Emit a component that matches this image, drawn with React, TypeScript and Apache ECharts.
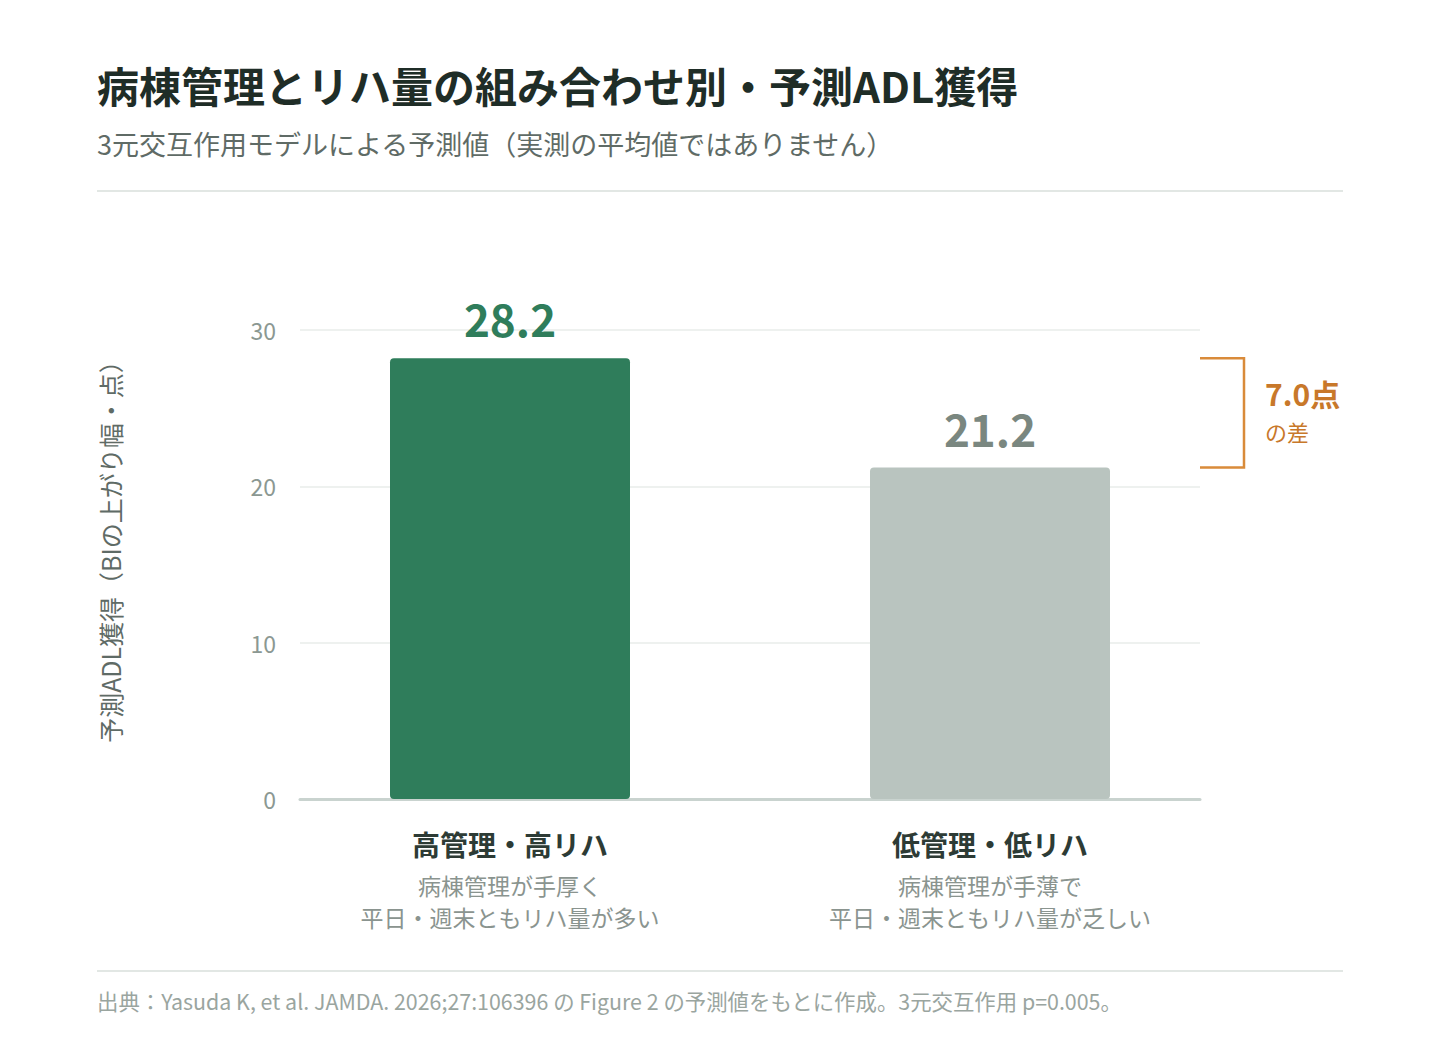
import React, { useEffect, useRef } from "react";
import * as echarts from "echarts";

const categories = ["高管理・高リハ", "低管理・低リハ"];
const categoryNotes = [
  ["病棟管理が手厚く", "平日・週末ともリハ量が多い"],
  ["病棟管理が手薄で", "平日・週末ともリハ量が乏しい"],
];
const values = [28.2, 21.2];
const barColors = ["#2f7d5b", "#b9c4bf"];
const labelColors = ["#2f7d5b", "#7a8780"];
const yTicks = [0, 10, 20, 30];

const FONT = '"Noto Sans CJK JP", "Noto Sans", sans-serif';
const title = "病棟管理とリハ量の組み合わせ別・予測ADL獲得";
const subtitle = "3元交互作用モデルによる予測値（実測の平均値ではありません）";
const yName = "予測ADL獲得（BIの上がり幅・点）";
const footer =
  "出典：Yasuda K, et al. JAMDA. 2026;27:106396 の Figure 2 の予測値をもとに作成。3元交互作用 p=0.005。";

export default function App() {
  const ref = useRef<HTMLDivElement>(null);
  useEffect(() => {
    if (!ref.current) return;
    const chart = echarts.init(ref.current, null, { renderer: "svg" });
    const top = 330;
    const bottom = 1040 - 799;
    const yMin = yTicks[0];
    const yMax = yTicks[yTicks.length - 1];
    const option: any = {
      animation: false,
      backgroundColor: "#ffffff",
      textStyle: { fontFamily: FONT },
      grid: [
        { left: 300, right: 240, top, bottom },
        { left: 270, right: 210, top, bottom },
      ],
      xAxis: [
        {
          type: "category",
          gridIndex: 0,
          data: categories,
          axisLine: { show: true, lineStyle: { color: "#c9d3cf", width: 3 } },
          axisTick: { show: false },
          axisLabel: { show: false },
        },
        {
          type: "category",
          gridIndex: 1,
          data: categories,
          axisLine: { show: false },
          axisTick: { show: false },
          axisLabel: {
            margin: 20,
            interval: 0,
            formatter: (v: string, i: number) =>
              `{t|${v}}\n{s|${categoryNotes[i][0]}}\n{s|${categoryNotes[i][1]}}`,
            rich: {
              t: { fontFamily: FONT, fontSize: 28, fontWeight: "bold", color: "#2d3b35", lineHeight: 50 },
              s: { fontFamily: FONT, fontSize: 23, color: "#8a948f", lineHeight: 32 },
            },
          },
        },
      ],
      yAxis: [
        {
          type: "value",
          gridIndex: 0,
          min: yMin,
          max: yMax,
          interval: 10,
          axisLine: { show: false },
          axisTick: { show: false },
          axisLabel: { fontFamily: FONT, fontSize: 23, color: "#8b9892", margin: 24 },
          splitLine: { lineStyle: { color: "#eef1ef", width: 2 } },
        },
        {
          type: "value",
          gridIndex: 1,
          min: yMin,
          max: yMax,
          interval: 10,
          show: false,
          splitLine: { show: false },
        },
      ],
      series: [
        {
          type: "bar",
          xAxisIndex: 1,
          yAxisIndex: 1,
          barWidth: 240,
          z: 3,
          data: values.map((v, i) => ({
            value: v,
            itemStyle: { color: barColors[i], borderRadius: 4 },
            label: {
              show: true,
              position: "top",
              distance: 18,
              fontFamily: FONT,
              fontSize: 44,
              fontWeight: "bold",
              color: labelColors[i],
              formatter: (p: any) => p.value.toFixed(1),
            },
          })),
        },
      ],
    };
    chart.setOption(option);

    const pTop = chart.convertToPixel({ gridIndex: 1 }, [0, values[0]]) as number[];
    const pBot = chart.convertToPixel({ gridIndex: 1 }, [1, values[1]]) as number[];
    const bx = 1200;
    const diff = (values[0] - values[1]).toFixed(1);
    const midY = (pTop[1] + pBot[1]) / 2;
    const midAxis = (top + 799) / 2;

    chart.setOption({
      graphic: [
        {
          type: "text",
          left: 97,
          top: 63,
          style: { text: title, fontFamily: FONT, fontSize: 42, fontWeight: "bold", fill: "#1f2d27" },
        },
        {
          type: "text",
          left: 97,
          top: 130,
          style: { text: subtitle, fontFamily: FONT, fontSize: 27, fill: "#5f6b66" },
        },
        {
          type: "line",
          shape: { x1: 97, y1: 191, x2: 1343, y2: 191 },
          style: { stroke: "#e2e7e4", lineWidth: 2 },
        },
        {
          type: "line",
          shape: { x1: 97, y1: 971, x2: 1343, y2: 971 },
          style: { stroke: "#e2e7e4", lineWidth: 2 },
        },
        {
          type: "text",
          left: 97,
          top: 990,
          style: { text: footer, fontFamily: FONT, fontSize: 21.4, fill: "#9aa59f" },
        },
        {
          type: "text",
          x: 110,
          y: midAxis - 19,
          rotation: Math.PI / 2,
          style: {
            text: yName,
            fontFamily: FONT,
            fontSize: 25,
            fill: "#5f6b66",
            align: "center",
            verticalAlign: "middle",
          },
        },
        {
          type: "polyline",
          shape: {
            points: [
              [bx, pTop[1]],
              [bx + 44, pTop[1]],
              [bx + 44, pBot[1]],
              [bx, pBot[1]],
            ],
          },
          style: { stroke: "#d98b3a", lineWidth: 2.5, fill: "none" },
        },
        {
          type: "text",
          x: bx + 65,
          y: midY - 20,
          style: {
            text: `${diff}点`,
            fontFamily: FONT,
            fontSize: 30,
            fontWeight: "bold",
            fill: "#c8782a",
            verticalAlign: "middle",
          },
        },
        {
          type: "text",
          x: bx + 65,
          y: midY + 18,
          style: {
            text: "の差",
            fontFamily: FONT,
            fontSize: 22,
            fill: "#c8782a",
            verticalAlign: "middle",
          },
        },
      ],
    });
    return () => chart.dispose();
  }, []);
  return (
    <div
      ref={ref}
      style={{ position: "fixed", left: 0, top: 0, width: 1440, height: 1040, background: "#fff" }}
    />
  );
}
